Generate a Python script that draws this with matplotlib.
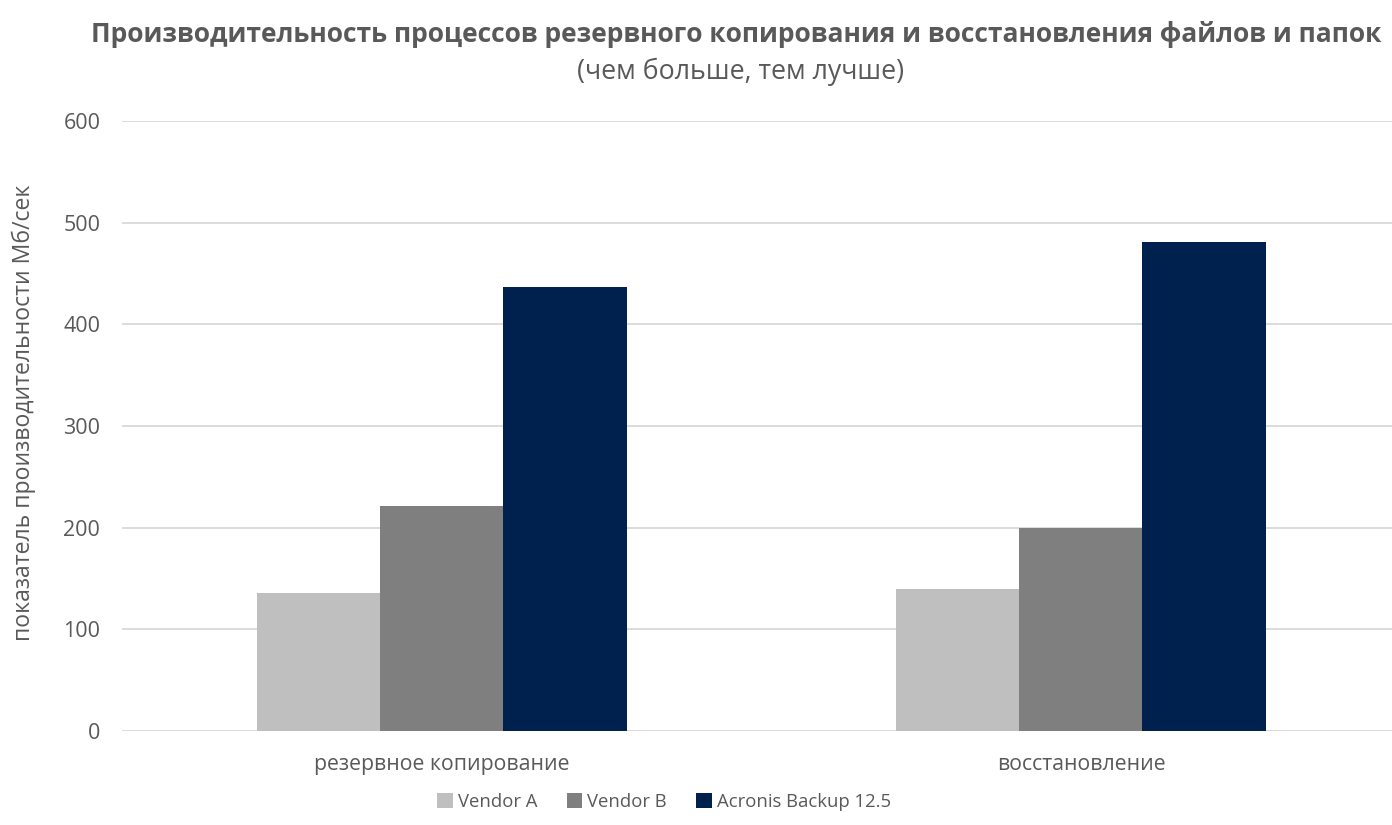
import numpy as np
import matplotlib
matplotlib.use("Agg")
import matplotlib.pyplot as plt

plt.rcParams['font.family'] = ['Open Sans', 'DejaVu Sans']

categories = ['резервное копирование', 'восстановление']
series_names = ['Vendor A', 'Vendor B', 'Acronis Backup 12.5']
vendor_a = [136, 140]
vendor_b = [221, 200]
acronis = [437, 481]
y_ticks = [0, 100, 200, 300, 400, 500, 600]

colors = ['#BFBFBF', '#7F7F7F', '#00214D']
text_color = '#595959'

fig = plt.figure(figsize=(13.92, 8.25), dpi=100)
ax = fig.add_axes([0.0880, 0.1139, 0.9181, 0.7394])

x = np.arange(len(categories))
width = 0.1925
for i, (vals, name) in enumerate(zip([vendor_a, vendor_b, acronis], series_names)):
    ax.bar(x + (i - 1) * width, vals, width, color=colors[i], label=name, zorder=3)

ax.set_xlim(-0.5, 1.5)
ax.set_ylim(0, 600)
ax.set_yticks(y_ticks)
ax.set_xticks(x)
ax.set_xticklabels(categories)
ax.tick_params(axis='y', length=0, labelsize=15.5, colors=text_color, pad=16)
ax.tick_params(axis='x', length=0, labelsize=15.3, colors=text_color, pad=16.5)
ax.grid(axis='y', color='#D9D9D9', linewidth=1.3, zorder=0)
for s in ax.spines.values():
    s.set_visible(False)

ax.set_ylabel('показатель производительности Мб/сек', fontsize=16.6, color=text_color)
ax.yaxis.set_label_coords(-0.068, 0.521)

fig.text(0.529, 0.958, 'Производительность процессов резервного копирования и восстановления файлов и папок',
         ha='center', va='center', fontsize=19, fontweight='bold', color=text_color)
fig.text(0.532, 0.913, '(чем больше, тем лучше)', ha='center', va='center',
         fontsize=19.3, color=text_color)

leg = fig.legend(loc='center', bbox_to_anchor=(0.477, 0.028), ncol=3, frameon=False,
                 fontsize=13.3, handlelength=0.85, handleheight=0.85, handletextpad=0.25,
                 columnspacing=1.6)
for t in leg.get_texts():
    t.set_color(text_color)

fig.savefig('out.png', dpi=100)
